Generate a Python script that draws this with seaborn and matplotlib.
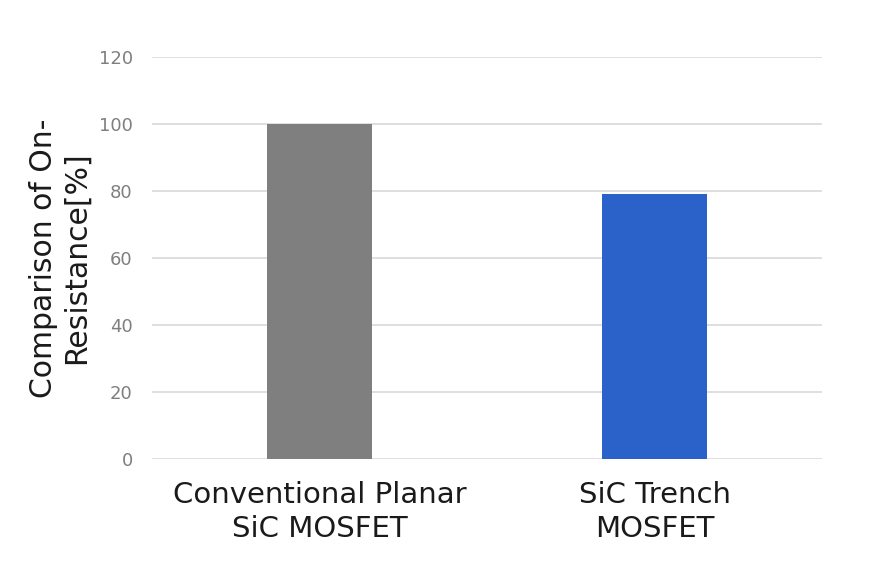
import matplotlib
matplotlib.use("Agg")
import matplotlib.pyplot as plt
import seaborn as sns
import pandas as pd

# On-resistance comparison data
categories = ["Conventional Planar\nSiC MOSFET", "SiC Trench\nMOSFET"]
values = [100, 79]
bar_colors = ["#7f7f7f", "#2a62c9"]
y_ticks = [0, 20, 40, 60, 80, 100, 120]

df = pd.DataFrame({"type": categories, "value": values})

sns.set_style("white")
plt.rcParams["font.family"] = ["DejaVu Sans"]

fig = plt.figure(figsize=(8.7, 5.64), dpi=100)
ax = fig.add_axes([0.175, 0.186, 0.77, 0.713])

sns.barplot(data=df, x="type", y="value", hue="type", palette=bar_colors,
            width=0.315, saturation=1, linewidth=0, legend=False, ax=ax, zorder=3)

ax.set_ylim(0, 120)
ax.set_yticks(y_ticks)
ax.set_xlim(-0.5, 1.5)
ax.yaxis.grid(True, color="#d9d9d9", linewidth=1.2, zorder=0)
ax.set_axisbelow(True)
for s in ax.spines.values():
    s.set_visible(False)

ax.tick_params(axis="y", length=0, pad=14, labelsize=13, labelcolor="#7f7f7f")
ax.tick_params(axis="x", length=0, pad=16, labelsize=21, labelcolor="#1a1a1a")
for lbl in ax.get_xticklabels():
    lbl.set_linespacing(1.25)
ax.set_xlabel("")
ax.set_ylabel("Comparison of On-\nResistance[%]", fontsize=21.5, color="#1a1a1a",
              labelpad=6, linespacing=1.15)

fig.savefig("out.png", dpi=100)
